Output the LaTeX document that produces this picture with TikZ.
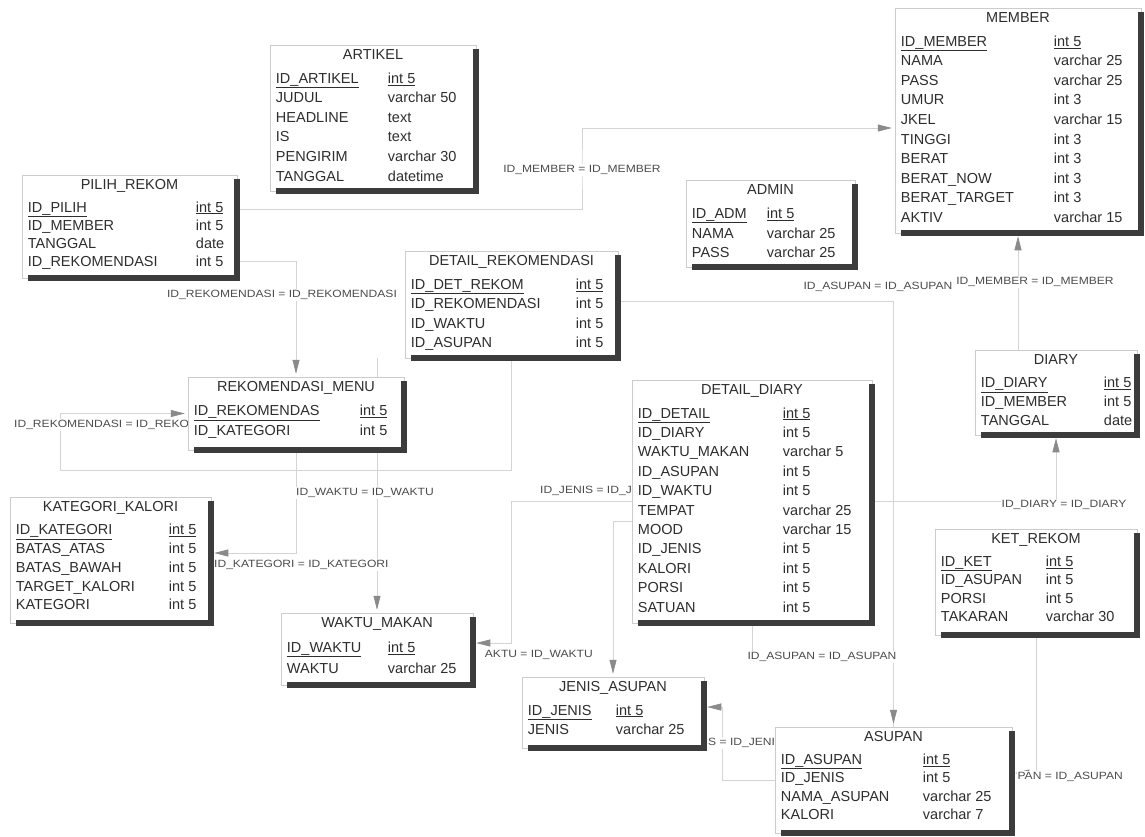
\documentclass[tikz,border=0pt]{standalone}
\usepackage{fontspec}
\setmainfont{Liberation Sans}
\newfontfamily\lblfont[FakeStretch=1.15]{Liberation Sans}
\usetikzlibrary{arrows.meta,positioning,fit,backgrounds}
\definecolor{shdc}{HTML}{3C3C3C}
\definecolor{txtc}{HTML}{2E2E2E}
\definecolor{linec}{HTML}{D4D4D4}
\definecolor{tipc}{HTML}{8A8A8A}
\pgfdeclarelayer{lines}
\pgfdeclarelayer{labels}
\pgfsetlayers{background,lines,labels,main}
\tikzset{
  tbl/.style={draw=black!20, line width=0.5pt, fill=white, inner sep=0pt},
  shd/.style={draw=shdc, line width=6pt},
  ttl/.style={font=\fontsize{14.5}{17}\selectfont, text=txtc, inner sep=0pt, anchor=base},
  fld/.style={text=txtc, inner sep=0pt, anchor=north west},
  lbl/.style={font=\lblfont\fontsize{10.5}{12}\selectfont, text=black!70, fill=white, inner sep=1pt, text height=7.5pt, text depth=2.5pt},
  rel/.style={draw=linec, line width=0.6pt},
  arr/.style={-{Triangle[length=14pt, width=7pt, color=tipc]}, shorten >=3pt},
}
% name, left, top, right, bottom, title, column width, rows, row pitch
\newcommand{\ertable}[9]{%
  \node[tbl, fit={(#2,#3) (#4,#5)}] (#1) {};
  \draw[shd] ([yshift=-4pt]#1.north east) |- ([xshift=6pt]#1.south west);
  \node[ttl] at ([yshift=-15.2pt]#1.north) {#6};
  \node[fld] at ([xshift=6pt, yshift=-24.5pt]#1.north west)
    {\fontsize{14.5}{#9}\selectfont\begin{tabular}{@{}p{#7pt}@{}l@{}}#8\end{tabular}};
}

\begin{document}
\begin{tikzpicture}[x=1pt, y=-1pt]
  \begin{pgfonlayer}{background}
    \fill[white] (0,0) rectangle (1145,836);
  \end{pgfonlayer}
  \useasboundingbox (0,0) rectangle (1145,836);

  \ertable{artikel}{270}{45}{476}{191}{ARTIKEL}{112}{%
    \underline{ID\_ARTIKEL} & \underline{int 5}\\ JUDUL & varchar 50\\ HEADLINE & text\\
    IS & text\\ PENGIRIM & varchar 30\\ TANGGAL & datetime}{19.6}
  \ertable{pilih}{22}{175}{237}{278}{PILIH\_REKOM}{168}{%
    \underline{ID\_PILIH} & \underline{int 5}\\ ID\_MEMBER & int 5\\ TANGGAL & date\\
    ID\_REKOMENDASI & int 5}{18}
  \ertable{member}{895}{8}{1141}{233}{MEMBER}{153}{%
    \underline{ID\_MEMBER} & \underline{int 5}\\ NAMA & varchar 25\\ PASS & varchar 25\\
    UMUR & int 3\\ JKEL & varchar 15\\ TINGGI & int 3\\ BERAT & int 3\\ BERAT\_NOW & int 3\\
    BERAT\_TARGET & int 3\\ AKTIV & varchar 15}{19.6}
  \ertable{admin}{686}{180}{855}{267}{ADMIN}{75}{%
    \underline{ID\_ADM} & \underline{int 5}\\ NAMA & varchar 25\\ PASS & varchar 25}{19.8}
  \ertable{detrek}{405}{251}{618}{358}{DETAIL\_REKOMENDASI}{165}{%
    \underline{ID\_DET\_REKOM} & \underline{int 5}\\ ID\_REKOMENDASI & int 5\\
    ID\_WAKTU & int 5\\ ID\_ASUPAN & int 5}{19.6}
  \ertable{rekmenu}{188}{377}{404}{450}{REKOMENDASI\_MENU}{166}{%
    \underline{ID\_REKOMENDAS} & \underline{int 5}\\ ID\_KATEGORI & int 5}{20}
  \ertable{detdiary}{632}{380}{872}{623}{DETAIL\_DIARY}{145}{%
    \underline{ID\_DETAIL} & \underline{int 5}\\ ID\_DIARY & int 5\\ WAKTU\_MAKAN & varchar 5\\
    ID\_ASUPAN & int 5\\ ID\_WAKTU & int 5\\ TEMPAT & varchar 25\\ MOOD & varchar 15\\
    ID\_JENIS & int 5\\ KALORI & int 5\\ PORSI & int 5\\ SATUAN & int 5}{19.4}
  \ertable{diary}{975}{350}{1137}{435}{DIARY}{123}{%
    \underline{ID\_DIARY} & \underline{int 5}\\ ID\_MEMBER & int 5\\ TANGGAL & date}{19}
  \ertable{ketrek}{935}{529}{1137}{635}{KET\_REKOM}{105}{%
    \underline{ID\_KET} & \underline{int 5}\\ ID\_ASUPAN & int 5\\ PORSI & int 5\\
    TAKARAN & varchar 30}{18.5}
  \ertable{kategori}{10}{497}{211}{623}{KATEGORI\_KALORI}{153}{%
    \underline{ID\_KATEGORI} & \underline{int 5}\\ BATAS\_ATAS & int 5\\ BATAS\_BAWAH & int 5\\
    TARGET\_KALORI & int 5\\ KATEGORI & int 5}{18.8}
  \ertable{waktu}{281}{613}{473}{685}{WAKTU\_MAKAN}{101}{%
    \underline{ID\_WAKTU} & \underline{int 5}\\ WAKTU & varchar 25}{21}
  \ertable{jenis}{522}{677}{704}{748}{JENIS\_ASUPAN}{88}{%
    \underline{ID\_JENIS} & \underline{int 5}\\ JENIS & varchar 25}{19.5}
  \ertable{asupan}{775}{727}{1012}{833}{ASUPAN}{142}{%
    \underline{ID\_ASUPAN} & \underline{int 5}\\ ID\_JENIS & int 5\\ NAMA\_ASUPAN & varchar 25\\
    KALORI & varchar 7}{18.5}

  % reference labels, cut where the tables cover them
  \begin{pgfonlayer}{labels}
    \node[lbl] (lmember) at (582,170) {ID\_MEMBER = ID\_MEMBER};
    \node[lbl] (lrekom) at (282,295) {ID\_REKOMENDASI = ID\_REKOMENDASI};
    \node[lbl, anchor=west] (lrekom2) at (13,425) {ID\_REKOMENDASI = ID\_REKO};
    \node[lbl] (lwaktu) at (365,493) {ID\_WAKTU = ID\_WAKTU};
    \node[lbl, anchor=west] (lkat) at (213,565) {ID\_KATEGORI = ID\_KATEGORI};
    \node[lbl, anchor=east] (lwaktu2) at (594,655) {AKTU = ID\_WAKTU};
    \node[lbl, anchor=west] (ljenis) at (539,491) {ID\_JENIS = ID\_J};
    \node[lbl, anchor=west] (ljenis2) at (707,743) {S = ID\_JENI};
    \node[lbl] (lasupan) at (822,657) {ID\_ASUPAN = ID\_ASUPAN};
    \node[lbl, anchor=east] (lasupan2) at (1124,777) {PAN = ID\_ASUPAN};
    \node[lbl] (lasupan3) at (878,287) {ID\_ASUPAN = ID\_ASUPAN};
    \node[lbl] (lmember2) at (1035,282) {ID\_MEMBER = ID\_MEMBER};
    \node[lbl] (ldiary) at (1064,505) {ID\_DIARY = ID\_DIARY};
  \end{pgfonlayer}

  \begin{pgfonlayer}{lines}
    \draw[rel, arr] ([yshift=17pt]pilih.east) -| (lmember.center) |- ([yshift=-7.5pt]member.west);
    \draw[rel, arr] ([yshift=-35pt]pilih.east) -| (rekmenu.north);
    \draw[rel, arr] (detrek.south) |- (60,470) |- (rekmenu.west);
    \draw[rel, arr] (detrek.south -| waktu.north) -- (waktu.north);
    \draw[rel, arr] (rekmenu.south) |- ([yshift=7pt]kategori.east);
    \draw[rel, arr] (detdiary.west) -- ++(-120,0) |- ([yshift=6pt]waktu.east);
    \draw[rel, arr] ([yshift=-20pt]detdiary.west) -| (jenis.north);
    \draw[rel, arr] (asupan.west) -- ++(-52,0) |- ([yshift=5.5pt]jenis.east);
    \draw[rel] (detdiary.south) -- ++(0,34) -| (asupan.north);
    \draw[rel, arr] ([yshift=3pt]detrek.east) -| (asupan.north);
    \draw[rel, arr] (ketrek.south) |- ([yshift=7pt]asupan.east);
    \draw[rel, arr] (member.south |- diary.north) -- (member.south);
    \draw[rel, arr] (detdiary.east) -| (diary.south);
  \end{pgfonlayer}
\end{tikzpicture}
\end{document}
